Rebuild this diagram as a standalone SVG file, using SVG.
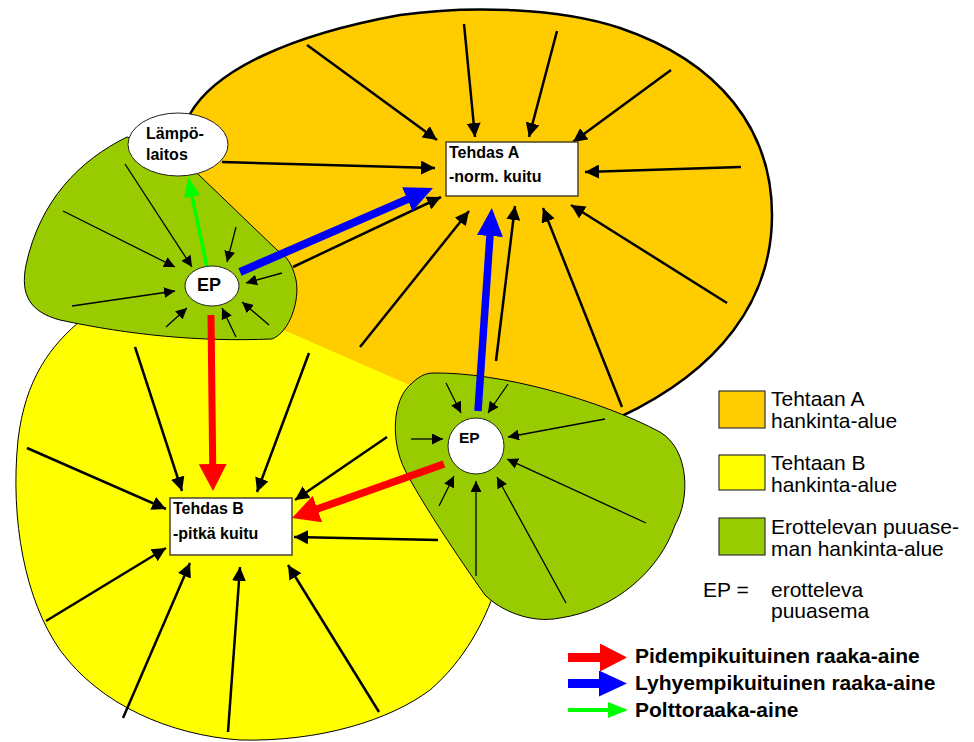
<svg xmlns="http://www.w3.org/2000/svg" width="974" height="742" viewBox="0 0 974 742">
  <style>
    .lbl { font-family: "Liberation Sans", Arial, sans-serif; fill: #000; }
    .node-b { font-weight: bold; font-size: 16px; }
    .leg { font-size: 21px; }
    .leg-b { font-size: 21px; font-weight: bold; }
    .big { stroke: #000; stroke-width: 2.5; fill: none; marker-end: url(#ah-big); }
    .small { stroke: #000; stroke-width: 1.3; fill: none; marker-end: url(#ah-small); }
    .box { fill: #fff; stroke: #4a4428; stroke-width: 1.5; }
    .ell { fill: #fff; stroke: #222; stroke-width: 1; }
  </style>
  <defs>
    <marker id="ah-big" markerUnits="userSpaceOnUse" viewBox="0 0 14 14" refX="14" refY="7" markerWidth="14" markerHeight="14" orient="auto">
      <path d="M0,0 L14,7 L0,14 z" fill="#000"/>
    </marker>
    <marker id="ah-small" markerUnits="userSpaceOnUse" viewBox="0 0 11 11" refX="11" refY="5.5" markerWidth="11" markerHeight="11" orient="auto">
      <path d="M0,0 L11,5.5 L0,11 z" fill="#000"/>
    </marker>
    <marker id="ah-red" markerUnits="userSpaceOnUse" viewBox="0 0 27 28" refX="1" refY="14" markerWidth="27" markerHeight="28" orient="auto">
      <path d="M0,0 L27,14 L0,28 z" fill="#ff0000"/>
    </marker>
    <marker id="ah-blue" markerUnits="userSpaceOnUse" viewBox="0 0 28 26" refX="1" refY="13" markerWidth="28" markerHeight="26" orient="auto">
      <path d="M0,0 L28,13 L0,26 z" fill="#0000ff"/>
    </marker>
    <marker id="ah-green" markerUnits="userSpaceOnUse" viewBox="0 0 20 16" refX="1" refY="8" markerWidth="20" markerHeight="16" orient="auto">
      <path d="M0,0 L20,8 L0,16 z" fill="#00ff00"/>
    </marker>
  </defs>

  <!-- supply areas -->
  <g id="regions">
    <!-- area B (yellow) -->
    <path id="area-b" d="M84,318 C50,345 25,380 18,440 C10,520 25,600 60,650 C100,705 170,735 240,740 C320,742 390,720 430,690 C465,660 485,620 495,590 L470,450 L420,380 L280,320 L150,310 Z" fill="#ffff00" stroke="#000" stroke-width="1"/>
    <!-- area A (orange) fill and outer outline -->
    <path id="area-a" d="M190,114 C215,70 290,35 400,15 C470,5 560,8 620,28 C720,62 772,130 772,215 C772,300 720,370 620,417 L560,400 L430,394 L270,324 L250,290 L200,200 L165,140 Z" fill="#ffcc00"/>
    <path d="M190,114 C215,70 290,35 400,15 C470,5 560,8 620,28 C720,62 772,130 772,215 C772,300 720,370 620,417" fill="none" stroke="#000" stroke-width="2.5"/>
    <!-- station areas (green) -->
    <path id="area-ep1" d="M127,137 C80,160 40,200 26,265 C20,295 30,312 60,320 C130,335 200,342 272,339 C290,332 300,300 296,280 C292,262 285,255 277,250 L199,175 L170,150 Z" fill="#99cc00" stroke="#000" stroke-width="1"/>
    <path id="area-ep2" d="M433,373 C500,372 600,400 660,432 C690,450 690,500 675,525 C660,570 615,610 560,618 C530,624 500,610 485,595 C460,560 420,500 405,470 C390,440 393,400 410,385 C418,377 425,373 433,373 Z" fill="#99cc00" stroke="#000" stroke-width="1"/>
  </g>

  <g id="connectors">
    <!-- into Tehdas A -->
    <line class="big" x1="307" y1="45" x2="437" y2="140"/>
    <line class="big" x1="464" y1="24" x2="475" y2="137"/>
    <line class="big" x1="557" y1="31" x2="529" y2="137"/>
    <line class="big" x1="671" y1="70" x2="573" y2="142"/>
    <line class="big" x1="741" y1="167" x2="585" y2="172"/>
    <line class="big" x1="727" y1="303" x2="571" y2="205"/>
    <line class="big" x1="622" y1="407" x2="543" y2="208"/>
    <line class="big" x1="496" y1="361" x2="515" y2="206"/>
    <line class="big" x1="360" y1="347" x2="469" y2="211"/>
    <line class="big" x1="293" y1="267" x2="441" y2="197"/>
    <line class="big" x1="222" y1="162" x2="435" y2="168"/>
    <!-- into Tehdas B -->
    <line class="big" x1="135" y1="347" x2="182" y2="491"/>
    <line class="big" x1="309" y1="353" x2="257" y2="492"/>
    <line class="big" x1="27" y1="448" x2="166" y2="509"/>
    <line class="big" x1="387" y1="437" x2="295" y2="500"/>
    <line class="big" x1="438" y1="540" x2="294" y2="537"/>
    <line class="big" x1="46" y1="621" x2="166" y2="548"/>
    <line class="big" x1="123" y1="718" x2="190" y2="563"/>
    <line class="big" x1="228" y1="732" x2="240" y2="567"/>
    <line class="big" x1="379" y1="712" x2="288" y2="565"/>
    <!-- into EP (left) -->
    <line class="small" x1="125" y1="164" x2="192" y2="267"/>
    <line class="small" x1="63" y1="211" x2="175" y2="267"/>
    <line class="small" x1="72" y1="306" x2="175" y2="291"/>
    <line class="small" x1="166" y1="327" x2="187" y2="308"/>
    <line class="small" x1="236" y1="337" x2="222" y2="308"/>
    <line class="small" x1="269" y1="325" x2="242" y2="302"/>
    <line class="small" x1="282" y1="273" x2="246" y2="283"/>
    <line class="small" x1="236" y1="227" x2="227" y2="262"/>
    <!-- into EP (right) -->
    <line class="small" x1="446" y1="383" x2="461" y2="413"/>
    <line class="small" x1="508" y1="384" x2="488" y2="413"/>
    <line class="small" x1="411" y1="439" x2="443" y2="439"/>
    <line class="small" x1="605" y1="419" x2="508" y2="437"/>
    <line class="small" x1="646" y1="523" x2="507" y2="459"/>
    <line class="small" x1="566" y1="603" x2="497" y2="477"/>
    <line class="small" x1="476" y1="576" x2="476" y2="481"/>
    <line class="small" x1="439" y1="506" x2="454" y2="476"/>
    <!-- material flows -->
    <line x1="211" y1="315" x2="212.7" y2="465" stroke="#ff0000" stroke-width="7" marker-end="url(#ah-red)"/>
    <line x1="444" y1="464" x2="316.5" y2="509.3" stroke="#ff0000" stroke-width="7.5" marker-end="url(#ah-red)"/>
    <line x1="478" y1="411" x2="490" y2="235" stroke="#0000ff" stroke-width="7.5" marker-end="url(#ah-blue)"/>
    <line x1="240" y1="272" x2="408.2" y2="198.8" stroke="#0000ff" stroke-width="8" marker-end="url(#ah-blue)"/>
    <line x1="207" y1="267" x2="191.9" y2="195.6" stroke="#00ff00" stroke-width="3.5" marker-end="url(#ah-green)"/>
  </g>

  <g id="node-lampolaitos">
    <ellipse class="ell" cx="178" cy="144.5" rx="50" ry="31.5"/>
    <text class="lbl node-b" x="146" y="139">Lämpö-</text>
    <text class="lbl node-b" x="146" y="160">laitos</text>
  </g>
  <g id="node-ep1">
    <ellipse class="ell" cx="212" cy="286" rx="27" ry="20"/>
    <text class="lbl" x="197" y="291" font-size="18" font-weight="bold">EP</text>
  </g>
  <g id="node-ep2">
    <circle class="ell" cx="476" cy="446" r="28"/>
    <text class="lbl" x="459" y="443" font-size="15.5" font-weight="bold">EP</text>
  </g>
  <g id="node-tehdas-a">
    <rect class="box" x="446" y="142" width="132" height="54"/>
    <text class="lbl node-b" x="449" y="158">Tehdas A</text>
    <text class="lbl node-b" x="449" y="182">-norm. kuitu</text>
  </g>
  <g id="node-tehdas-b">
    <rect class="box" x="170" y="498" width="122" height="57"/>
    <text class="lbl node-b" x="173" y="514">Tehdas B</text>
    <text class="lbl node-b" x="173" y="539">-pitkä kuitu</text>
  </g>

  <g id="legend">
    <rect x="719" y="391" width="46" height="37" fill="#ffcc00" stroke="#333" stroke-width="1.2"/>
    <text class="lbl leg" x="771" y="406">Tehtaan A</text>
    <text class="lbl leg" x="771" y="428">hankinta-alue</text>
    <rect x="719" y="455" width="46" height="35" fill="#ffff00" stroke="#333" stroke-width="1.2"/>
    <text class="lbl leg" x="771" y="470">Tehtaan B</text>
    <text class="lbl leg" x="771" y="492">hankinta-alue</text>
    <rect x="719" y="518" width="46" height="37" fill="#99cc00" stroke="#333" stroke-width="1.2"/>
    <text class="lbl leg" x="771" y="534">Erottelevan puuase-</text>
    <text class="lbl leg" x="771" y="556">man hankinta-alue</text>
    <text class="lbl leg" x="703" y="597">EP =</text>
    <text class="lbl leg" x="771" y="597">erotteleva</text>
    <text class="lbl leg" x="771" y="618">puuasema</text>

    <line x1="568" y1="657.5" x2="601" y2="657.5" stroke="#ff0000" stroke-width="9" marker-end="url(#ah-red)"/>
    <line x1="568" y1="683.5" x2="600" y2="683.5" stroke="#0000ff" stroke-width="9" marker-end="url(#ah-blue)"/>
    <line x1="568" y1="710" x2="609" y2="710" stroke="#00ff00" stroke-width="4" marker-end="url(#ah-green)"/>
    <text class="lbl leg-b" x="635" y="663">Pidempikuituinen raaka-aine</text>
    <text class="lbl leg-b" x="635" y="690">Lyhyempikuituinen raaka-aine</text>
    <text class="lbl leg-b" x="635" y="717">Polttoraaka-aine</text>
  </g>
</svg>
